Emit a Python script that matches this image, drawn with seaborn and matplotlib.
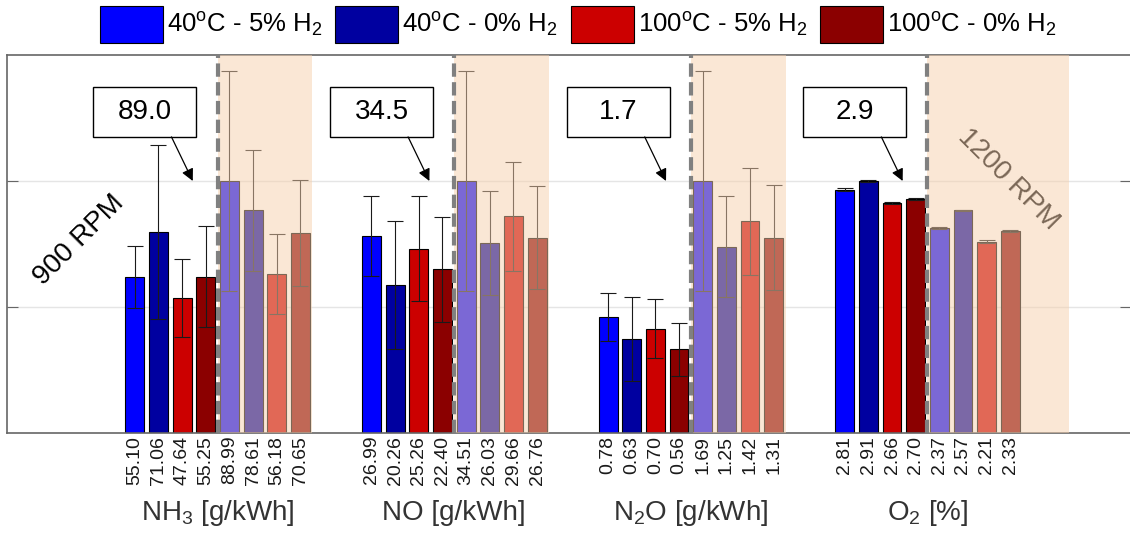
import matplotlib
matplotlib.use("Agg")
import matplotlib.pyplot as plt
from matplotlib.patches import Rectangle
import pandas as pd
import seaborn as sns

plt.rcParams["font.family"] = ["Liberation Sans", "DejaVu Sans"]

# data
species_labels = [
    r"NH$\mathregular{_3}$ [g/kWh]",
    "NO [g/kWh]",
    r"N$\mathregular{_2}$O [g/kWh]",
    r"O$\mathregular{_2}$ [%]",
]
conditions = [
    r"40$\mathregular{^o}$C - 5% H$\mathregular{_2}$",
    r"40$\mathregular{^o}$C - 0% H$\mathregular{_2}$",
    r"100$\mathregular{^o}$C - 5% H$\mathregular{_2}$",
    r"100$\mathregular{^o}$C - 0% H$\mathregular{_2}$",
]
colors = ["#0000FF", "#0000A0", "#CC0000", "#8B0000"]
rpms = [900, 1200]

# first 4 values: 900 RPM, last 4: 1200 RPM
nh3 = [55.10, 71.06, 47.64, 55.25, 88.99, 78.61, 56.18, 70.65]
no = [26.99, 20.26, 25.26, 22.40, 34.51, 26.03, 29.66, 26.76]
n2o = [0.78, 0.63, 0.70, 0.56, 1.69, 1.25, 1.42, 1.31]
o2 = [2.81, 2.91, 2.66, 2.70, 2.37, 2.57, 2.21, 2.33]

nh3_err = [11.1, 30.7, 13.8, 17.8, 38.9, 21.4, 14.2, 18.7]
no_err = [5.5, 8.8, 7.2, 7.2, 15.1, 7.1, 7.5, 7.1]
n2o_err = [0.16, 0.28, 0.20, 0.18, 0.74, 0.34, 0.36, 0.35]
o2_err = [0.015, 0.010, 0.010, 0.010, 0.010, 0.010, 0.015, 0.010]

all_vals = [nh3, no, n2o, o2]
all_errs = [nh3_err, no_err, n2o_err, o2_err]

rows = []
for g, (vals, errs) in enumerate(zip(all_vals, all_errs)):
    vmax = max(vals)
    for j, (v, e) in enumerate(zip(vals, errs)):
        rows.append({
            "pos": 10 * g + j,
            "cond": conditions[j % 4],
            "rpm": rpms[j // 4],
            "value": v,
            "norm": v / vmax * 2,
            "err": e / vmax * 2,
        })
df = pd.DataFrame(rows)

fig = plt.figure(figsize=(11.3, 5.34), dpi=100)
ax = fig.add_axes([7 / 1130, 101 / 534, 1124 / 1130, 378 / 534])

sns.barplot(
    data=df, x="pos", y="norm", hue="cond", hue_order=conditions,
    palette=dict(zip(conditions, colors)), native_scale=True, dodge=False,
    width=0.8, edgecolor="black", linewidth=0.8, errorbar=None,
    saturation=1, ax=ax,
)
ax.errorbar(
    df["pos"], df["norm"], yerr=df["err"], fmt="none", ecolor="#1a1a1a",
    elinewidth=0.8, capsize=5.5, capthick=0.8, zorder=2.5,
)

handles, labels = ax.get_legend_handles_labels()
ax.get_legend().remove()
leg = fig.legend(
    handles, labels, loc="upper center", bbox_to_anchor=(0.512, 1.0),
    ncol=4, frameon=False, fontsize=18.5, handlelength=2.45, handleheight=1.8,
    handletextpad=0.16, columnspacing=0.5, borderaxespad=0.1, borderpad=0.15,
)
for p in leg.get_patches():
    p.set_edgecolor("black")
    p.set_linewidth(0.8)

# 1200 RPM shading, dashed separator, callouts
for g, vals in enumerate(all_vals):
    x0 = 10 * g
    end = x0 + 7.5 if g < 3 else x0 + 9.5
    ax.axvspan(x0 + 3.5, end, color=(246 / 255, 208 / 255, 173 / 255),
               alpha=0.5, lw=0, zorder=3)
    ax.axvline(x0 + 3.5, color="#808080", lw=3, linestyle=(0, (3.2, 1.3)),
               zorder=4)
    ax.add_patch(Rectangle((x0 - 1.75, 2.35), 4.35, 0.395, facecolor="white",
                           edgecolor="black", lw=1, zorder=5))
    ax.text(x0 + 0.43, 2.55, f"{max(vals):.1f}", fontsize=20, ha="center",
            va="center", zorder=6)
    ax.annotate("", xy=(x0 + 2.45, 2.0), xytext=(x0 + 1.55, 2.35),
                arrowprops=dict(arrowstyle="-|>", color="black", lw=0.9,
                                mutation_scale=18, shrinkA=0, shrinkB=0),
                zorder=6)
    ax.text(x0 + 3.5, -0.23, species_labels[g], fontsize=20, color="#333333",
            ha="center", va="baseline", transform=ax.get_xaxis_transform())

ax.text(-2.35, 1.53, "900 RPM", fontsize=20, rotation=45, ha="center",
        va="center", zorder=6)
ax.text(36.9, 2.01, "1200 RPM", fontsize=20, rotation=-45, ha="center",
        va="center", zorder=2.8)

ax.set_xlim(-5.4, 42.1)
ax.set_ylim(0, 3)
ax.set_xticks(df["pos"])
ax.set_xticklabels([f"{v:.2f}" for v in df["value"]], rotation=90,
                   fontsize=14, color="#1a1a1a")
ax.tick_params(axis="x", length=0, pad=2)
ax.set_yticks([1, 2])
ax.set_yticklabels([])
ax.tick_params(axis="y", direction="in", length=8, color="#666666",
               right=True)
ax.grid(axis="y", color="#e5e5e5", lw=1)
ax.set_axisbelow(True)
ax.set_xlabel("")
ax.set_ylabel("")
for s in ax.spines.values():
    s.set_color("#666666")
    s.set_linewidth(1.2)

fig.savefig("out.png", dpi=100)
